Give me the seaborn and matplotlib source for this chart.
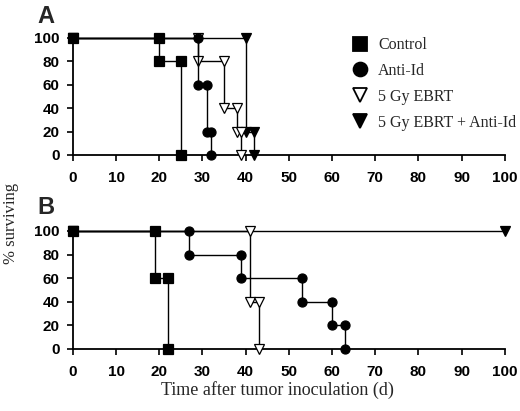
import matplotlib
matplotlib.use("Agg")
import matplotlib.pyplot as plt
from matplotlib.lines import Line2D
import seaborn as sns
import pandas as pd

sns.set_theme(style="ticks")
plt.rcParams['font.family'] = ['Liberation Sans', 'DejaVu Sans']

groups = ["Control", "Anti-Id", "5 Gy EBRT", "5 Gy EBRT + Anti-Id"]

# Panel A: event times (d) and survival (%) after each event
A_control_t = [0, 20, 25]
A_control_s = [100, 80, 0]
A_antiid_t = [0, 29, 31, 32]
A_antiid_s = [100, 60, 20, 0]
A_ebrt_t = [0, 29, 35, 38, 39]
A_ebrt_s = [100, 80, 40, 20, 0]
A_combo_t = [0, 40, 42]
A_combo_s = [100, 20, 0]

# Panel B
B_control_t = [0, 19, 22]
B_control_s = [100, 60, 0]
B_antiid_t = [0, 27, 39, 53, 60, 63]
B_antiid_s = [100, 80, 60, 40, 20, 0]
B_ebrt_t = [0, 41, 43]
B_ebrt_s = [100, 40, 0]
B_combo_t = [0, 100]
B_combo_s = [100, 100]

x_ticks = [0, 10, 20, 30, 40, 50, 60, 70, 80, 90, 100]
y_ticks = [0, 20, 40, 60, 80, 100]

styles = {
    "Control": dict(marker="s", mfc="black"),
    "Anti-Id": dict(marker="o", mfc="black"),
    "5 Gy EBRT": dict(marker="v", mfc="white"),
    "5 Gy EBRT + Anti-Id": dict(marker="v", mfc="black"),
}


def km_path(t, s):
    xs, ys = [t[0]], [s[0]]
    for i in range(1, len(t)):
        if s[i] != s[i - 1]:
            xs += [t[i], t[i]]
            ys += [s[i - 1], s[i]]
        else:
            xs.append(t[i])
            ys.append(s[i])
    return xs, ys


fig = plt.figure(figsize=(5.2, 4.11), dpi=100)
axA = fig.add_axes([0.140, 0.623, 0.831, 0.285])
axB = fig.add_axes([0.140, 0.151, 0.831, 0.287])

panels = {
    axA: [("5 Gy EBRT + Anti-Id", A_combo_t, A_combo_s), ("5 Gy EBRT", A_ebrt_t, A_ebrt_s),
          ("Anti-Id", A_antiid_t, A_antiid_s), ("Control", A_control_t, A_control_s)],
    axB: [("5 Gy EBRT + Anti-Id", B_combo_t, B_combo_s), ("5 Gy EBRT", B_ebrt_t, B_ebrt_s),
          ("Anti-Id", B_antiid_t, B_antiid_s), ("Control", B_control_t, B_control_s)],
}

for ax, series in panels.items():
    for z, (name, t, s) in enumerate(series):
        xs, ys = km_path(t, s)
        df = pd.DataFrame({"t": xs, "s": ys})
        st = styles[name]
        sns.lineplot(data=df, x="t", y="s", ax=ax, sort=False, estimator=None,
                     color="black", lw=1.0, marker=st["marker"], markersize=6.5,
                     markerfacecolor=st["mfc"], markeredgecolor="black",
                     markeredgewidth=0.9, clip_on=False, zorder=3 + z)
    ax.set_xlim(0, 100)
    ax.set_ylim(0, 100)
    ax.set_xticks(x_ticks)
    ax.set_yticks(y_ticks)
    ax.set_xlabel("")
    ax.set_ylabel("")
    for side in ["top", "right"]:
        ax.spines[side].set_visible(False)
    for side in ["left", "bottom"]:
        ax.spines[side].set_linewidth(1.3)
        ax.spines[side].set_color("black")
    ax.tick_params(axis="both", direction="out", length=4.5, width=1.2, colors="black",
                   labelsize=11)
    ax.tick_params(axis="x", pad=7)
    ax.tick_params(axis="y", pad=5)
    for lab in ax.get_xticklabels() + ax.get_yticklabels():
        lab.set_fontweight("bold")

handles = [Line2D([], [], ls="none", marker=styles[g]["marker"], markersize=10,
                  markerfacecolor=styles[g]["mfc"], markeredgecolor="black",
                  markeredgewidth=1.3) for g in groups]
leg = axA.legend(handles, groups, loc="upper left", bbox_to_anchor=(0.632, 1.06),
                 frameon=False, handlelength=1.0, handletextpad=0.63, labelspacing=0.62,
                 borderaxespad=0.0, prop={"family": "Liberation Serif", "size": 11.5})

fig.text(0.072, 0.988, "A", fontsize=17, fontweight="bold", va="top", ha="left")
fig.text(0.072, 0.522, "B", fontsize=17, fontweight="bold", va="top", ha="left")
fig.text(0.022, 0.457, "% surviving", rotation=90, va="center", ha="center",
         family="Liberation Serif", fontsize=12)
fig.text(0.533, 0.052, "Time after tumor inoculation (d)", va="center", ha="center",
         family="Liberation Serif", fontsize=13)

fig.savefig("out.png", dpi=100)
